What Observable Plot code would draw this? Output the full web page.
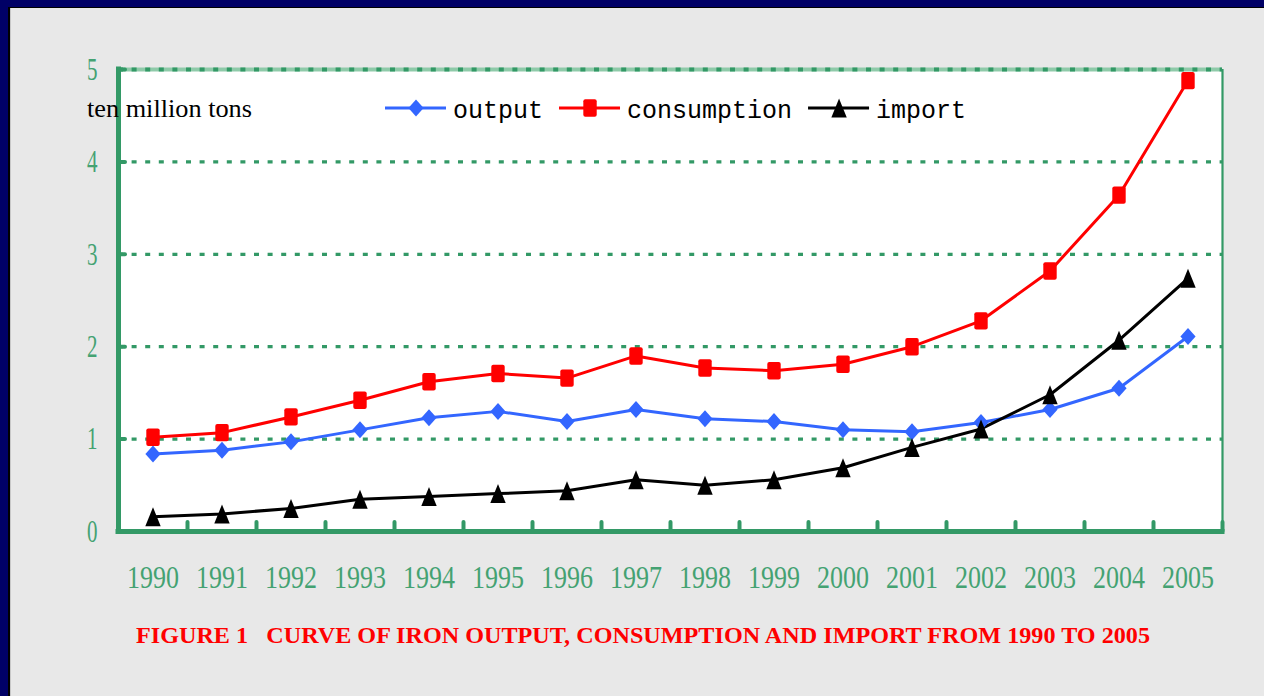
<!DOCTYPE html>
<html><head><meta charset="utf-8">
<script src="https://cdn.jsdelivr.net/npm/d3@7"></script>
<script src="https://cdn.jsdelivr.net/npm/@observablehq/plot@0.6"></script>
<style>
body{margin:0;background:#e8e8e8;}
#wrap{position:relative;width:1264px;height:696px;overflow:hidden;background:#e8e8e8;}
.bl{position:absolute;}
#chart{position:absolute;left:0;top:0;}
#overlay{position:absolute;left:0;top:0;pointer-events:none;}
</style></head><body>
<div id="wrap">
 <div class="bl" style="left:0;top:0;width:8px;height:696px;background:#000066"></div>
 <div class="bl" style="left:0;top:0;width:1264px;height:7px;background:#000066"></div>
 <div class="bl" style="left:8px;top:7px;width:2px;height:689px;background:#000"></div>
 <div class="bl" style="left:8px;top:7px;width:1256px;height:1px;background:#000"></div>
 <div class="bl" style="left:10px;top:8px;width:1px;height:688px;background:#c8c8c8"></div>
 <div id="chart"></div>
 <svg id="overlay" width="1264" height="696"></svg>
</div>
<script>
const years = [1990,1991,1992,1993,1994,1995,1996,1997,1998,1999,2000,2001,2002,2003,2004,2005];
const output = [0.84,0.88,0.97,1.10,1.23,1.30,1.19,1.32,1.22,1.19,1.10,1.08,1.18,1.32,1.55,2.11];
const consumption = [1.02,1.07,1.24,1.42,1.62,1.71,1.66,1.90,1.77,1.74,1.81,2.00,2.28,2.82,3.64,4.88];
const imports = [0.16,0.19,0.25,0.35,0.38,0.41,0.44,0.56,0.50,0.56,0.69,0.91,1.11,1.48,2.07,2.74];
const seriesNames = ["output","consumption","import"];
const seriesColors = ["#3366ff","#ff0000","#000000"];
const yTicks = [0,1,2,3,4,5];
const gridValues = [1,2,3,4];
const unitLabel = "ten million tons";
const caption = "FIGURE 1   CURVE OF IRON OUTPUT, CONSUMPTION AND IMPORT FROM 1990 TO 2005";

const G = "#339966", GL = "#8fcaa9", TXT = "#44a272";

function rr(ctx,x,y,w,h,r){ctx.moveTo(x+r,y);ctx.arcTo(x+w,y,x+w,y+h,r);ctx.arcTo(x+w,y+h,x,y+h,r);ctx.arcTo(x,y+h,x,y,r);ctx.arcTo(x,y,x+w,y,r);ctx.closePath();}
const symDiamond = {draw(ctx){ctx.moveTo(0,-8.5);ctx.lineTo(7.6,0);ctx.lineTo(0,8.5);ctx.lineTo(-7.6,0);ctx.closePath();}};
const symSquare = {draw(ctx){rr(ctx,-6.7,-8.7,13.4,17.4,2);}};
const symTriangle = {draw(ctx){ctx.moveTo(0,-9.5);ctx.lineTo(7.7,9.5);ctx.lineTo(-7.7,9.5);ctx.closePath();}};
const symbols = [symDiamond, symSquare, symTriangle];

const seriesValues = [output, consumption, imports];
const rows = seriesNames.flatMap((s,k) => years.map((yr,i) => ({year: yr, value: seriesValues[k][i], series: s})));
const boundaries = years.map(y => y + 0.5);
const x0 = years[0] - 0.5, x1 = years[years.length-1] + 0.5;

const chart = Plot.plot({
  width: 1264, height: 696,
  marginLeft: 118, marginRight: 42, marginTop: 69, marginBottom: 165,
  style: {background: "transparent", overflow: "visible"},
  x: {type: "linear", domain: [x0, x1], axis: null, label: null},
  y: {domain: [0, 5], axis: null, label: null},
  color: {domain: seriesNames, range: seriesColors},
  marks: [
    Plot.frame({fill: "white", stroke: "none"}),
    Plot.gridY(gridValues, {stroke: G, strokeOpacity: 1, strokeWidth: 3.3, strokeDasharray: "5,8.6"}),
    Plot.ruleY([yTicks[yTicks.length-1]], {stroke: GL, strokeWidth: 4}),
    Plot.ruleY([yTicks[yTicks.length-1]], {stroke: G, strokeWidth: 4, strokeDasharray: "5,8.6"}),
    Plot.ruleX([x1], {stroke: G, strokeWidth: 2.2}),
    Plot.axisX(boundaries, {label: null, tickSize: -9, tickFormat: () => "", stroke: G, strokeWidth: 4, strokeLinecap: "round"}),
    Plot.axisY(yTicks.slice(1), {label: null, tickSize: -7, tickFormat: () => "", stroke: G, strokeWidth: 4, strokeLinecap: "round"}),
    Plot.ruleX([x0], {stroke: G, strokeWidth: 5, strokeLinecap: "square"}),
    Plot.ruleY([0], {stroke: G, strokeWidth: 5, strokeLinecap: "square"}),
    Plot.axisX(years, {label: null, tickSize: 0, tickPadding: 34, tickFormat: d => String(d), fontSize: 32, fontFamily: "Liberation Serif", color: TXT}),
    Plot.axisY(yTicks, {label: null, tickSize: 0, tickPadding: 21, tickFormat: d => String(d), fontSize: 32, fontFamily: "Liberation Serif", color: TXT}),
    Plot.line(rows, {x: "year", y: "value", z: "series", stroke: "series", strokeWidth: 3}),
    ...seriesNames.map((s,k) => Plot.dot(rows.filter(d => d.series === s), {x: "year", y: "value", fill: "series", symbol: symbols[k], r: 8}))
  ]
});
document.getElementById("chart").appendChild(chart);

const cs = d3.select(chart);
cs.selectAll('g[aria-label="x-axis tick label"] text').filter(function(){return this.textContent.length>0;})
  .attr("textLength", 52).attr("lengthAdjust", "spacingAndGlyphs");
cs.selectAll('g[aria-label="y-axis tick label"] text').filter(function(){return this.textContent.length>0;})
  .attr("textLength", 10.5).attr("lengthAdjust", "spacingAndGlyphs");

const ov = d3.select("#overlay");
// unit label
ov.append("text").attr("x", 87).attr("y", 116.5).attr("font-family", "Liberation Serif").attr("font-size", 26)
  .attr("fill", "#000").attr("textLength", 165).attr("lengthAdjust", "spacingAndGlyphs").text(unitLabel);
// legend
let lx = 385; const ly = 108;
seriesNames.forEach((name, i) => {
  ov.append("line").attr("x1", lx).attr("x2", lx + 61).attr("y1", ly).attr("y2", ly)
    .attr("stroke", seriesColors[i]).attr("stroke-width", 3);
  const p = d3.path(); symbols[i].draw(p);
  ov.append("path").attr("transform", `translate(${lx + 31},${ly})`).attr("d", p.toString()).attr("fill", seriesColors[i]);
  const t = ov.append("text").attr("x", lx + 68).attr("y", ly + 10).attr("font-family", "Liberation Mono")
    .attr("font-size", 25).attr("fill", "#000").text(name);
  lx = lx + 68 + t.node().getComputedTextLength() + 16;
});
// caption
ov.append("text").attr("x", 136).attr("y", 643).attr("font-family", "Liberation Serif").attr("font-weight", "bold")
  .attr("font-size", 24).attr("fill", "#ff0000").style("white-space", "pre")
  .attr("textLength", 1014).attr("lengthAdjust", "spacingAndGlyphs").text(caption);
</script>
</body></html>
